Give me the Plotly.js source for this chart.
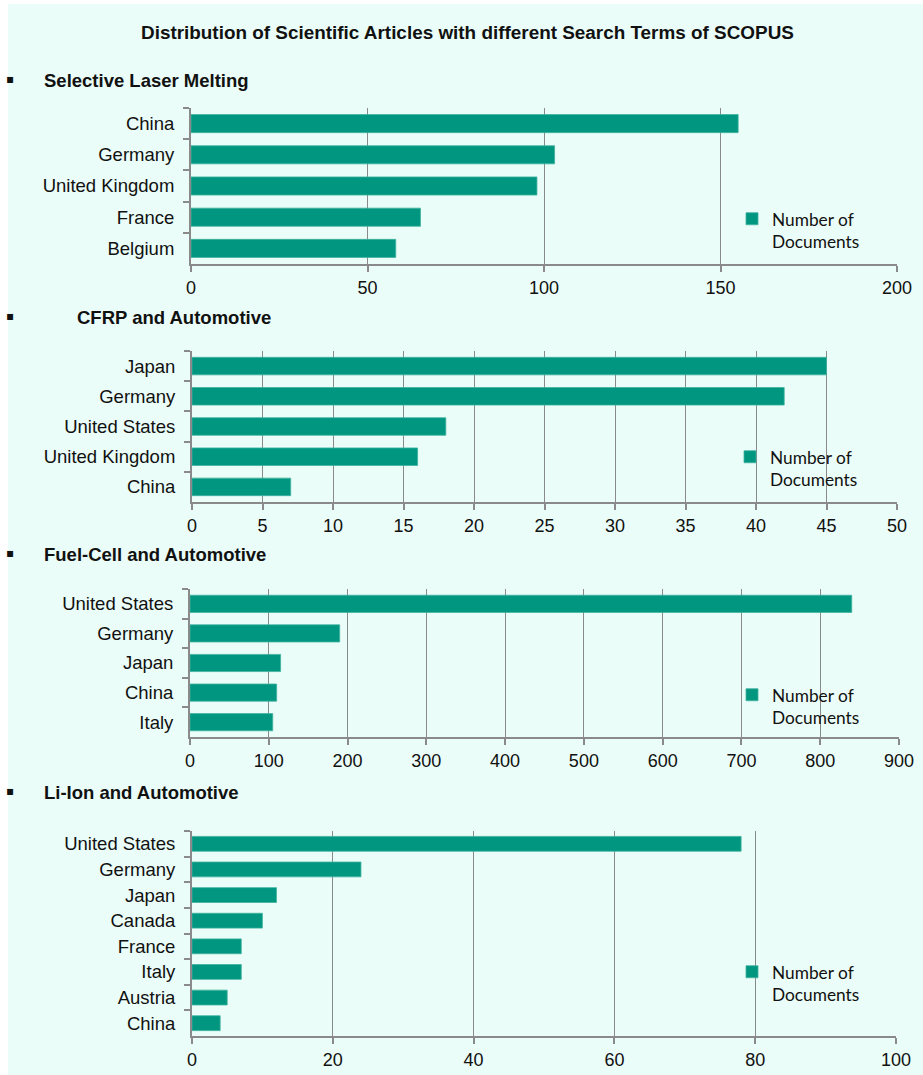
<!DOCTYPE html>
<html>
<head>
<meta charset="utf-8">
<script src="https://cdn.plot.ly/plotly-3.0.1.min.js"></script>
<style>
  html, body { margin: 0; padding: 0; background: #ffffff; }
  #chart { width: 923px; height: 1075px; }
</style>
</head>
<body>
<div id="chart"></div>
<script>
// ---- Data ----
const chartTitle = "Distribution of Scientific Articles with different Search Terms of SCOPUS";
const sectionTitles = ["Selective Laser Melting", "CFRP and Automotive", "Fuel-Cell and Automotive", "Li-Ion and Automotive"];
const seriesName = "Number of<br>Documents";

const slmCountries = ["China", "Germany", "United Kingdom", "France", "Belgium"];
const slmDocs = [155, 103, 98, 65, 58];

const cfrpCountries = ["Japan", "Germany", "United States", "United Kingdom", "China"];
const cfrpDocs = [45, 42, 18, 16, 7];

const fuelCountries = ["United States", "Germany", "Japan", "China", "Italy"];
const fuelDocs = [840, 190, 115, 110, 105];

const liionCountries = ["United States", "Germany", "Japan", "Canada", "France", "Italy", "Austria", "China"];
const liionDocs = [78, 24, 12, 10, 7, 7, 5, 4];

const xRanges = [[0, 200], [0, 50], [0, 900], [0, 100]];
const xDticks = [50, 5, 100, 20];

// ---- Layout helpers ----
const W = 923, H = 1075;
const px = v => v / W;
const py = v => 1 - v / H;

const BAR = "#00967f";
const BAR_EDGE = "#3fb3a0";
const GRID = "#8a8a8a";
const BG = "#ebfdf8";
const TICK_FONT = { family: "Liberation Sans, Arial, sans-serif", size: 18, color: "#111111" };
const CAT_FONT = { family: "Liberation Sans, Arial, sans-serif", size: 18.5, color: "#111111" };
const LEG_FONT = { family: "Lato, Open Sans, sans-serif", size: 17.3, color: "#111111" };

const panels = [
  { cats: slmCountries, vals: slmDocs, x: [191, 897], y: [108, 264], leg: [732, 201] },
  { cats: cfrpCountries, vals: cfrpDocs, x: [192, 897], y: [351, 502], leg: [730, 439] },
  { cats: fuelCountries, vals: fuelDocs, x: [190, 899], y: [589, 737], leg: [732, 677] },
  { cats: liionCountries, vals: liionDocs, x: [192, 896], y: [831, 1036], leg: [732, 954] }
];

const traces = [];
const layout = {
  width: W, height: H,
  margin: { l: 0, r: 0, t: 0, b: 0 },
  paper_bgcolor: "#ffffff",
  plot_bgcolor: "rgba(0,0,0,0)",
  bargap: 0.42,
  showlegend: true,
  shapes: [{
    type: "rect", xref: "paper", yref: "paper", layer: "below",
    x0: px(8), x1: 1, y0: 0, y1: py(4),
    fillcolor: BG, line: { width: 0 }
  }],
  annotations: [{
    text: "<b>" + chartTitle + "</b>", xref: "paper", yref: "paper",
    x: px(467), y: py(33), xanchor: "center", yanchor: "middle", showarrow: false,
    font: { family: "Liberation Sans, Arial, sans-serif", size: 18.9, color: "#111111" }
  }]
};

const headerPos = [[42, 80], [75, 317], [42, 554], [42, 792]];
const bulletY = [79, 316, 553, 791];

panels.forEach((p, i) => {
  const n = i + 1;
  const xa = n === 1 ? "xaxis" : "xaxis" + n;
  const ya = n === 1 ? "yaxis" : "yaxis" + n;
  const legKey = n === 1 ? "legend" : "legend" + n;
  traces.push({
    type: "bar", orientation: "h",
    x: p.vals, y: p.cats,
    name: seriesName,
    xaxis: n === 1 ? "x" : "x" + n,
    yaxis: n === 1 ? "y" : "y" + n,
    legend: legKey,
    marker: { color: BAR, line: { color: BAR_EDGE, width: 0.8 } },
    hoverinfo: "x+y"
  });
  layout[xa] = {
    domain: [px(p.x[0]), px(p.x[1])],
    anchor: n === 1 ? "y" : "y" + n,
    range: xRanges[i], dtick: xDticks[i], tick0: 0,
    showgrid: true, gridcolor: GRID, gridwidth: 1.3,
    showline: true, linecolor: GRID, linewidth: 2,
    ticks: "outside", ticklen: 6, tickcolor: GRID, tickwidth: 1.5,
    zeroline: false, fixedrange: true,
    tickfont: TICK_FONT
  };
  layout[ya] = {
    domain: [py(p.y[1]), py(p.y[0])],
    anchor: n === 1 ? "x" : "x" + n,
    type: "category", autorange: "reversed",
    showgrid: false,
    showline: true, linecolor: GRID, linewidth: 2,
    ticks: "outside", ticklen: 6, tickcolor: GRID, tickwidth: 1.5,
    tickson: "boundaries",
    ticklabelstandoff: 11,
    fixedrange: true,
    tickfont: CAT_FONT
  };
  layout[legKey] = {
    x: px(p.leg[0]), y: py(p.leg[1]),
    xanchor: "left", yanchor: "top",
    bgcolor: "rgba(0,0,0,0)", borderwidth: 0,
    font: LEG_FONT, valign: "top", itemwidth: 30
  };
  layout.annotations.push({
    text: "<b>" + sectionTitles[i] + "</b>", xref: "paper", yref: "paper",
    x: px(headerPos[i][0]), y: py(headerPos[i][1]), xanchor: "left", yanchor: "middle",
    showarrow: false,
    font: { family: "Liberation Sans, Arial, sans-serif", size: 18.5, color: "#111111" }
  });
  layout.annotations.push({
    text: "▪", xref: "paper", yref: "paper",
    x: px(10), y: py(bulletY[i]), xanchor: "center", yanchor: "middle",
    showarrow: false,
    font: { family: "DejaVu Sans, sans-serif", size: 12, color: "#111111" }
  });
});

Plotly.newPlot("chart", traces, layout, { displayModeBar: false, staticPlot: false });
</script>
</body>
</html>
